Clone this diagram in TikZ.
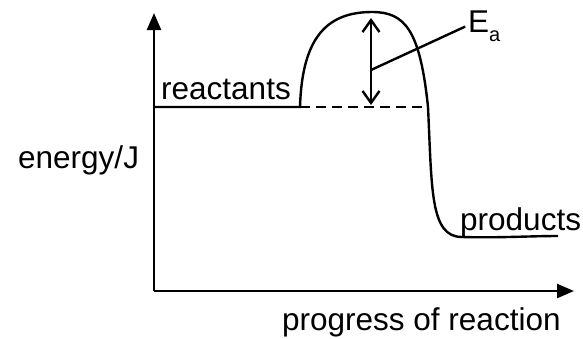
\documentclass[tikz,border=0pt]{standalone}
\usepackage{fontspec}
\setmainfont{Liberation Sans}
\usetikzlibrary{arrows.meta}

\begin{document}
\begin{tikzpicture}[
    x=1pt, y=-1pt,
    line width=2.4pt,
    axis/.style={-{Triangle[length=17pt,width=14pt]}},
    gap/.style={{Straight Barb[length=12pt,width=17pt]}-{Straight Barb[length=12pt,width=17pt]}},
    word/.style={font=\fontsize{31.5}{36}\selectfont, inner sep=0pt, anchor=base west}
]
\useasboundingbox (0,0) rectangle (583,338);

% -------------------------
% Axes
% -------------------------
\coordinate (Origin) at (154,291);
\coordinate (YEnd) at (154,13);
\coordinate (XEnd) at (574,291);

\draw[axis] (Origin) -- (YEnd);
\draw[axis] (Origin) -- (XEnd);

\node[word] (EnergyLbl) at (17,168) {energy/J};
\node[word] (ProgressLbl) at (281,330) {progress of reaction};

% -------------------------
% Energy profile
% -------------------------
\coordinate (ReactStart) at (154,107);
\coordinate (HumpStart) at (300,107);
\coordinate (HumpTop) at (372,12);
\coordinate (HumpEnd) at (428,107);
\coordinate (ProdStart) at (462,237);
\coordinate (ProdEnd) at (558,236);

\draw (ReactStart) -- (HumpStart)
    .. controls (302,40) and (325,12) .. (HumpTop)
    .. controls (405,12) and (420,30) .. (HumpEnd)
    .. controls (432,190) and (430,237) .. (ProdStart)
    .. controls (500,238) and (530,236) .. (ProdEnd);

% dashed level of the reactants
\draw[dash pattern=on 10pt off 6pt] (HumpStart) -- (HumpEnd);

\node[word] (ReactLbl) at (160,99) {reactants};
\node[word] (ProdLbl) at (459,230) {products};

% -------------------------
% Activation energy
% -------------------------
\coordinate (GapLow) at (371,105);
\coordinate (GapHigh) at (371,18);
\coordinate (GapMid) at (371,70);

\draw[gap] (GapLow) -- (GapHigh);

\node[word] (EaLbl) at (467,32) {E\raisebox{-9pt}{\fontsize{20}{22}\selectfont a}};
\draw[shorten >=2pt] (GapMid) -- (EaLbl.west);

\end{tikzpicture}
\end{document}
